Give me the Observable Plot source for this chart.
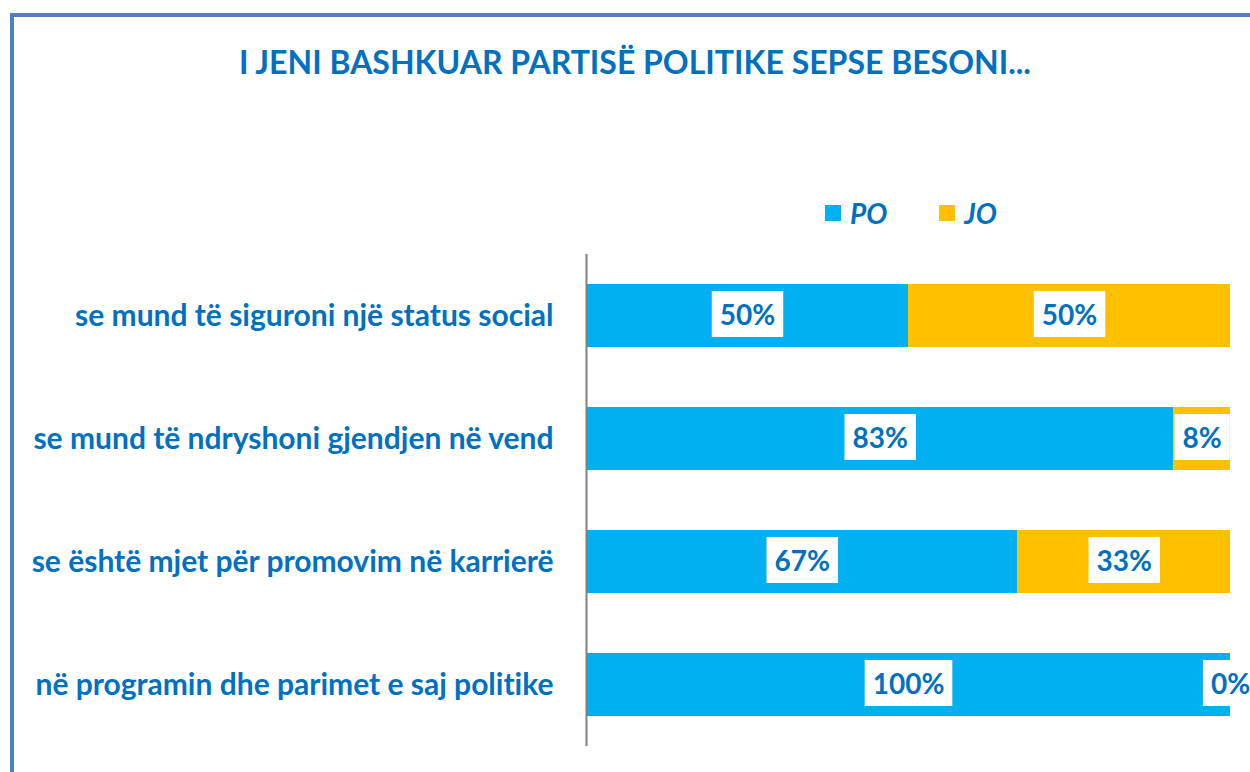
<!DOCTYPE html>
<html><head><meta charset="utf-8">
<script src="https://cdn.jsdelivr.net/npm/d3@7"></script>
<script src="https://cdn.jsdelivr.net/npm/@observablehq/plot@0.6"></script>
<style>
html,body{margin:0;padding:0;background:#fff;width:1250px;height:772px;overflow:hidden;font-family:Lato,"Open Sans",sans-serif;font-variant-ligatures:none;}
#frame{position:absolute;left:10px;top:13px;width:1300px;height:800px;border-left:4px solid #4f81bd;border-top:4px solid #4f81bd;box-sizing:border-box;}
#title{position:absolute;left:0;width:1270px;top:42px;text-align:center;color:#0070c0;font-weight:bold;font-size:32px;line-height:40px;white-space:nowrap;}
#legend{position:absolute;left:825px;top:196px;display:flex;align-items:center;height:34px;}
#legend .sw{width:16px;height:16px;display:inline-block;margin-right:9px;}
#legend .lb{font-size:28px;font-weight:bold;font-style:italic;color:#0070c0;margin-right:52px;}
#chart{position:absolute;left:0;top:240px;}
#chart svg text{font-variant-ligatures:none;font-feature-settings:"liga" 0,"clig" 0;}
#chart svg [aria-label="y-axis tick label"] text{fill:#0070c0;}
</style>
</head><body>
<div id="frame"></div>
<div id="title">I JENI BASHKUAR PARTISË POLITIKE SEPSE BESONI...</div>
<div id="legend"></div>
<div id="chart"></div>
<script>
const categories = [
  "se mund të siguroni një status social",
  "se mund të ndryshoni gjendjen në vend",
  "se është mjet për promovim në karrierë",
  "në programin dhe parimet e saj politike"
];
const po = [50, 83, 67, 100];
const jo = [50, 8, 33, 0];
const seriesNames = ["PO", "JO"];
const seriesColors = ["#00b0f0", "#ffc000"];

const rows = categories.flatMap((c, i) => [
  {category: c, answer: seriesNames[0], value: po[i]},
  {category: c, answer: seriesNames[1], value: jo[i]}
]);

const legend = document.getElementById("legend");
seriesNames.forEach((n, i) => {
  const sw = document.createElement("span"); sw.className = "sw"; sw.style.background = seriesColors[i];
  const lb = document.createElement("span"); lb.className = "lb"; lb.textContent = n;
  legend.append(sw, lb);
});

const chart = Plot.plot({
  width: 1250, height: 532,
  marginLeft: 586, marginRight: 20, marginTop: 14, marginBottom: 26,
  style: {fontFamily: "Lato, 'Open Sans', sans-serif", background: "transparent", overflow: "visible"},
  x: {domain: [0, 1], axis: null},
  y: {domain: categories, paddingInner: 0.49, paddingOuter: 0.245, label: null, axis: null},
  color: {domain: seriesNames, range: seriesColors},
  marks: [
    Plot.barX(rows, Plot.stackX({x: "value", y: "category", fill: "answer", offset: "normalize", order: seriesNames})),
    Plot.ruleX([0], {stroke: "#808080", strokeWidth: 2}),
    Plot.text(rows, Plot.stackX({x: "value", y: "category", z: "answer", offset: "normalize", order: seriesNames,
      text: d => d.value + "%", fill: "#0070c0", fontSize: 28, fontWeight: "bold"})),
    Plot.axisY({tickSize: 0, tickPadding: 33, fontSize: 30, fontWeight: "bold", fill: "#0070c0", label: null})
  ]
});
document.getElementById("chart").append(chart);

// white label boxes behind segment labels
d3.select(chart).selectAll('g[aria-label="text"] text').each(function() {
  const b = this.getBBox();
  const cy = b.y + b.height / 2;
  const r = d3.select(this.parentNode).insert("rect", () => this)
    .attr("x", b.x - 8).attr("y", cy - 23)
    .attr("width", b.width + 16).attr("height", 46)
    .attr("fill", "#fff");
  const tr = this.getAttribute("transform");
  if (tr) r.attr("transform", tr);
});
</script>
</body></html>
